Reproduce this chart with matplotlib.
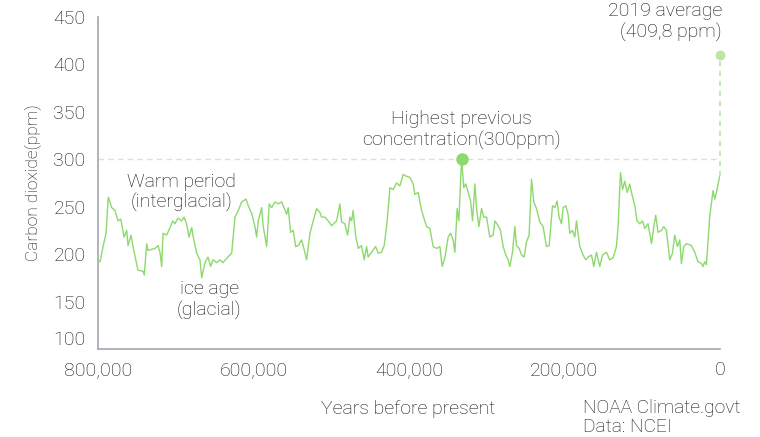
import numpy as np
import matplotlib
matplotlib.use("Agg")
import matplotlib.pyplot as plt

plt.rcParams['font.family'] = ['Roboto', 'DejaVu Sans']
plt.rcParams['font.weight'] = 'light'
plt.rcParams['axes.labelweight'] = 'light'

# CO2 record from ice cores: thousands of years before present, ppm
years_k = [800.0, 797.4, 793.5, 789.7, 786.8, 782.4, 778.1, 774.3, 770.8, 766.5,
           763.1, 761.4, 757.6, 755.0, 748.6, 742.1, 740.5, 737.4, 735.7, 726.7,
           722.9, 720.3, 718.1, 716.4, 711.7, 707.4, 704.0, 701.0, 697.1, 692.4,
           689.4, 686.0, 683.0, 679.5, 677.4, 673.1, 668.8, 666.6, 662.4, 658.5,
           655.1, 652.1, 647.3, 643.1, 639.2, 632.8, 628.0, 623.8, 619.5, 615.2,
           609.6, 606.7, 602.3, 598.1, 595.9, 593.8, 589.5, 587.4, 583.0, 579.7,
           576.6, 572.4, 568.1, 563.7, 560.8, 557.3, 555.3, 552.2, 548.8, 545.7,
           542.4, 538.0, 535.1, 531.6, 527.3, 523.1, 518.7, 514.5, 512.3, 508.1,
           503.8, 499.4, 493.0, 488.8, 486.6, 482.4, 478.9, 475.9, 473.7, 471.7,
           468.6, 465.2, 460.9, 457.5, 454.4, 452.4, 448.0, 442.8, 439.5, 435.1,
           431.8, 428.7, 426.6, 424.4, 420.2, 415.8, 411.6, 407.3, 403.0, 398.7,
           394.5, 392.3, 388.0, 383.7, 377.2, 373.0, 368.7, 364.4, 360.1, 357.2,
           353.7, 349.5, 346.4, 343.0, 340.8, 337.9, 335.7, 332.2, 329.3, 326.7,
           323.7, 320.6, 318.1, 315.1, 312.9, 309.9, 306.5, 303.5, 300.1, 295.8,
           291.6, 289.4, 285.1, 282.1, 278.7, 275.2, 272.3, 270.1, 266.6, 263.7,
           261.5, 258.1, 255.0, 251.7, 248.6, 245.3, 242.2, 239.2, 235.8, 231.5,
           227.3, 222.9, 219.5, 215.2, 212.2, 209.3, 206.7, 203.6, 201.5, 198.1,
           195.1, 192.9, 189.5, 186.5, 184.3, 180.1, 175.8, 172.3, 169.4, 165.0,
           162.1, 158.6, 154.3, 150.9, 145.7, 141.5, 137.2, 132.9, 130.8, 127.7,
           125.1, 122.2, 119.2, 115.8, 113.6, 109.3, 106.4, 102.9, 99.4, 96.5,
           92.2, 87.8, 84.9, 82.3, 79.4, 75.0, 72.0, 68.6, 64.3, 60.8,
           57.9, 54.4, 51.4, 49.3, 46.3, 42.8, 36.4, 32.2, 27.9, 23.5,
           21.5, 19.3, 17.1, 12.9, 8.6, 6.4, 4.2, 0.9, 0.0]
co2_ppm = [193, 192, 208, 222, 260, 249, 246, 235, 237, 218,
           225, 209, 220, 208, 183, 182, 178, 211, 204, 206,
           209, 202, 187, 222, 220, 228, 235, 232, 238, 235,
           239, 232, 218, 228, 218, 201, 194, 175, 191, 197,
           187, 194, 191, 194, 191, 197, 201, 239, 246, 255,
           258, 251, 243, 229, 218, 235, 249, 229, 208, 253,
           249, 255, 253, 255, 249, 242, 249, 223, 225, 208,
           209, 215, 206, 194, 222, 235, 248, 244, 239, 239,
           235, 230, 235, 253, 234, 232, 220, 239, 235, 246,
           220, 206, 209, 194, 208, 197, 202, 208, 201, 202,
           209, 229, 248, 270, 268, 275, 272, 284, 282, 281,
           274, 263, 265, 246, 229, 227, 208, 206, 208, 187,
           196, 218, 222, 215, 202, 248, 235, 300, 270, 274,
           265, 256, 235, 274, 248, 229, 248, 239, 239, 218,
           220, 235, 230, 225, 208, 199, 194, 187, 202, 229,
           209, 206, 199, 197, 213, 220, 279, 255, 248, 234,
           229, 208, 209, 251, 249, 256, 239, 232, 249, 251,
           242, 222, 225, 218, 235, 208, 199, 194, 197, 199,
           187, 202, 187, 199, 202, 194, 196, 208, 229, 286,
           268, 277, 265, 274, 265, 251, 235, 232, 235, 227,
           232, 211, 229, 241, 223, 225, 229, 225, 194, 201,
           220, 208, 215, 190, 208, 211, 209, 202, 192, 190,
           187, 192, 189, 239, 267, 258, 265, 279, 282]

peak_year_k = 332.2
peak_ppm = 300
avg_2019 = 409.8

green = '#8dd96c'
light_green = '#b9e6a2'
text_col = '#111111'

fig = plt.figure(figsize=(7.6, 4.37), dpi=100)
ax = fig.add_axes([0.129, 0.2014, 0.818, 0.7597])

years = np.array(years_k) * 1000

ax.axhline(300, color='#dddddd', lw=1, ls=(0, (4, 3)), zorder=1)
ax.plot(years, co2_ppm, color=green, lw=1, zorder=3)
ax.plot([peak_year_k * 1000], [peak_ppm], 'o', color=green, ms=8, zorder=4)
ax.plot([0, 0], [co2_ppm[-1], avg_2019], color=light_green, lw=1.2,
        ls=(0, (3, 3)), zorder=2, clip_on=False)
ax.plot([0], [avg_2019], 'o', color=light_green, ms=6, zorder=4, clip_on=False)

ax.set_xlim(800000, 0)
ax.set_ylim(100, 450)
ax.set_xticks([800000, 600000, 400000, 200000, 0])
ax.set_xticklabels(['800,000', '600,000', '400,000', '200,000', '0'])
ax.set_yticks([100, 150, 200, 250, 300, 350, 400, 450])
ax.tick_params(length=0, labelsize=14, labelcolor=text_col)
ax.tick_params(axis='x', pad=9)
ax.tick_params(axis='y', pad=9)
ax.get_yticklabels()[0].set_verticalalignment('bottom')

for side in ['top', 'right']:
    ax.spines[side].set_visible(False)
for side in ['left', 'bottom']:
    ax.spines[side].set_color('#a3a7ae')
    ax.spines[side].set_linewidth(1.2)

ax.set_ylabel('Carbon dioxide(ppm)', fontsize=12.5, color=text_col, labelpad=8)

note = dict(fontsize=14, color=text_col, linespacing=1.2)
ax.text(693000, 265, 'Warm period\n(interglacial)', ha='center', va='center', **note)
ax.text(657000, 151.5, 'ice age\n(glacial)', ha='center', va='center', **note)
ax.text(333000, 331, 'Highest previous\nconcentration(300ppm)', ha='center',
        va='center', **note)
ax.text(-3000, 445, '2019 average\n(409,8 ppm)', ha='right', va='center',
        clip_on=False, **note)

fig.text(0.537, 0.064, 'Years before present', ha='center', va='center',
         fontsize=14, color=text_col)
fig.text(0.767, 0.044, 'NOAA Climate.govt\nData: NCEI', ha='left', va='center',
         fontsize=13.8, color=text_col, linespacing=1.1)

fig.savefig('out.png', dpi=100)
